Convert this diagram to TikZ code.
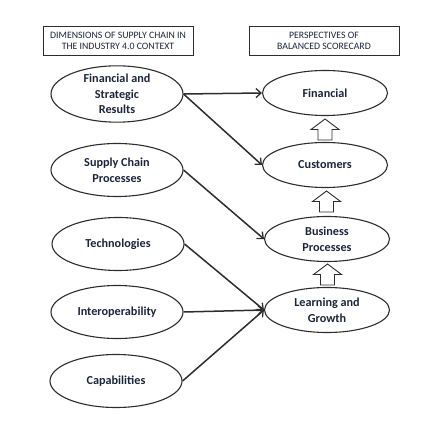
\documentclass[tikz,border=0pt]{standalone}
\usepackage{fontspec}
\setmainfont{Carlito}
\usetikzlibrary{shapes.geometric,arrows.meta}
\definecolor{txt}{RGB}{28,36,58}
\definecolor{ln}{RGB}{45,45,45}
\tikzset{
  ell/.style={ellipse,draw=ln,line width=1.1pt,minimum width=132pt,minimum height=53pt,inner sep=0pt,
    align=center,font=\fontsize{12.2}{15.6}\selectfont\bfseries,text=txt},
  rell/.style={ell,minimum width=125pt,minimum height=45pt},
  hdr/.style={draw=ln,line width=0.9pt,align=center,font=\fontsize{9.8}{11}\selectfont,text=txt,inner sep=0pt,
    minimum width=150pt,minimum height=29pt},
  con/.style={draw=ln,line width=1.5pt,-{Straight Barb[length=5pt,width=9pt,line width=1.3pt]}},
  blk/.style={draw=ln,line width=0.9pt,fill=white}
}
\begin{document}
\begin{tikzpicture}[x=1pt,y=-1pt]
\useasboundingbox (0,0) rectangle (431,435);
\node[hdr] (h1) at (118,40.5) {DIMENSIONS OF SUPPLY CHAIN IN\\THE INDUSTRY 4.0 CONTEXT};
\node[hdr] (h2) at (324,40.5) {PERSPECTIVES OF\\BALANCED SCORECARD};

\node[ell] (fsr) at (117,94) {Financial and\\Strategic\\Results};
\node[ell] (scp) at (117,170) {Supply Chain\\Processes};
\node[ell] (tec) at (118,244) {Technologies};
\node[ell] (int) at (117,312) {Interoperability};
\node[ell] (cap) at (116,381) {Capabilities};

\node[rell] (fin) at (325,93) {Financial};
\node[rell] (cus) at (325,165) {Customers};
\node[rell] (bus) at (327,239) {Business\\Processes};
\node[rell] (lea) at (327,310) {Learning and\\Growth};

\draw[con] (fsr.east) -- (fin.west);
\draw[con] (fsr.east) -- (cus.west);
\draw[con] (scp.east) -- (bus.west);
\draw[con] (tec.east) -- (lea.west);
\draw[con] (int.east) -- (lea.west);
\draw[con] (cap.east) -- (lea.west);

\foreach \cx/\ty in {325/119, 326.5/191, 327.5/264}{
  \draw[blk] (\cx,\ty) -- (\cx+14,\ty+10.5) -- (\cx+7,\ty+10.5) -- (\cx+7,\ty+21)
    -- (\cx-7,\ty+21) -- (\cx-7,\ty+10.5) -- (\cx-14,\ty+10.5) -- cycle;
}
\end{tikzpicture}
\end{document}
